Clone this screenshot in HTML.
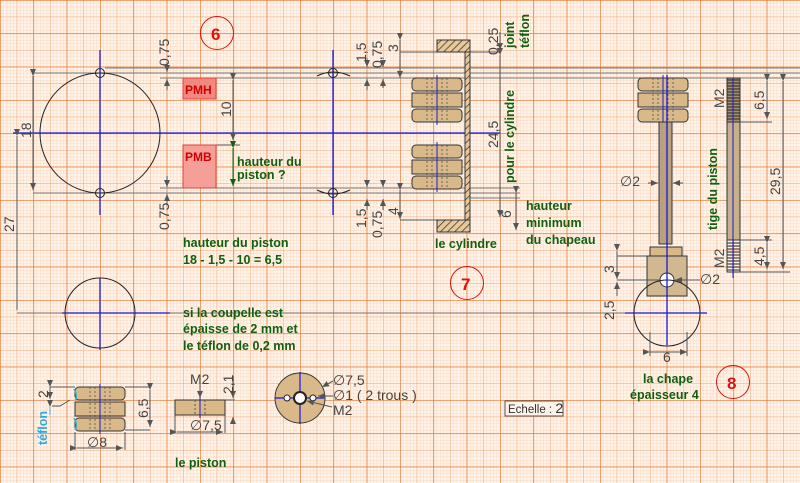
<!DOCTYPE html>
<html><head><meta charset="utf-8"><style>
html,body{margin:0;padding:0;width:800px;height:483px;overflow:hidden;background:#fff3ea}
svg{display:block}
.d{font-family:"Liberation Sans",sans-serif;font-size:14px;fill:#444}
.g{font-family:"Liberation Sans",sans-serif;font-size:12.5px;font-weight:bold;fill:#106010}
.r{font-family:"Liberation Sans",sans-serif;font-size:17px;font-weight:bold;fill:#e01010}
</style></head><body>
<svg width="800" height="483" viewBox="0 0 800 483" xmlns="http://www.w3.org/2000/svg">
<defs>
<pattern id="mn" width="3.3333" height="3.3333" patternUnits="userSpaceOnUse">
<path d="M0 0H3.3333M0 0V3.3333" stroke="#f9d2b6" stroke-width="0.8" fill="none"/>
</pattern>
<pattern id="md" width="16.6667" height="16.6667" patternUnits="userSpaceOnUse">
<path d="M0 0H16.6667M0 0V16.6667" stroke="#f3a874" stroke-width="1" fill="none"/>
</pattern>
<pattern id="mj" width="33.3333" height="33.3333" patternUnits="userSpaceOnUse">
<path d="M0 0H33.3333M0 0V33.3333" stroke="#e8742c" stroke-width="1.3" fill="none"/>
</pattern>
<pattern id="hatch" width="5" height="5" patternUnits="userSpaceOnUse" patternTransform="rotate(45)">
<rect width="5" height="5" fill="#e8c898"/><path d="M0 0V5" stroke="#333" stroke-width="1.5"/>
</pattern>
<marker id="a" markerWidth="8" markerHeight="6" refX="7" refY="3" orient="auto"><path d="M0 0L7 3L0 6z" fill="#555"/></marker>
<marker id="ag" markerWidth="8" markerHeight="6" refX="7" refY="3" orient="auto"><path d="M0 0L7 3L0 6z" fill="#106010"/></marker>
<g id="disc">
<rect x="0" y="0" width="50" height="13" rx="4" fill="#d9b98a" stroke="#333"/>
<rect x="0" y="15" width="50" height="14" fill="#d9b98a" stroke="#333"/>
<rect x="0" y="31" width="50" height="13" rx="4" fill="#d9b98a" stroke="#333"/>
<path d="M20 0V44M30 0V44M15 0V44M35 0V44" stroke="#555" stroke-dasharray="2 2" stroke-width="0.8"/>
<path d="M25 -3V47" stroke="#2020c0"/>
</g>
</defs>
<rect width="800" height="483" fill="#fff3ea"/>
<rect width="800" height="483" fill="url(#mn)"/>
<rect width="800" height="483" fill="url(#md)"/>
<rect width="800" height="483" fill="url(#mj)"/>

<!-- gray reference lines -->
<g stroke="#777" stroke-width="1" fill="none">
<path d="M33 73H800M160 78H800M105 68H800"/>
<path d="M33 193H520M160 188H520M470 198H520"/>
<path d="M17 313H640"/>
</g>

<!-- circle 6 -->
<circle cx="100" cy="133" r="60" fill="none" stroke="#222"/>
<circle cx="100" cy="73" r="4.5" fill="none" stroke="#222"/>
<circle cx="100" cy="193" r="4.5" fill="none" stroke="#222"/>
<path d="M100 50V215M13 133H500" stroke="#1a1ad0" stroke-width="1.3"/>
<circle cx="100" cy="313" r="35" fill="none" stroke="#222"/>
<path d="M100 278V350M62 313H170" stroke="#1a1ad0" stroke-width="1.3"/>

<g stroke="#555" fill="none">
<path d="M33 76V190" marker-start="url(#a)" marker-end="url(#a)"/>
<path d="M17 136V310" marker-start="url(#a)"/>
<path d="M167 62V72" marker-end="url(#a)"/><path d="M167 90V79" marker-end="url(#a)"/>
<path d="M167 176V187" marker-end="url(#a)"/><path d="M167 205V194" marker-end="url(#a)"/>
<path d="M233 80V140" marker-start="url(#a)" marker-end="url(#a)"/>
<path d="M216 145H240"/>
</g>
<text class="d" transform="translate(31,138) rotate(-90)">18</text>
<text class="d" transform="translate(14,232) rotate(-90)">27</text>
<text class="d" transform="translate(169,66) rotate(-90)">0,75</text>
<text class="d" transform="translate(169,230) rotate(-90)">0,75</text>
<text class="d" transform="translate(231,117) rotate(-90)">10</text>
<rect x="183" y="78" width="33" height="21" fill="#f08a80" stroke="#e04040"/>
<text x="185" y="94" font-family="Liberation Sans" font-size="12" font-weight="bold" fill="#d00000">PMH</text>
<rect x="183" y="145" width="33" height="43" fill="#f4a098" stroke="#e04040"/>
<text x="185" y="161" font-family="Liberation Sans" font-size="12" font-weight="bold" fill="#d00000">PMB</text>
<path d="M233 148V186" stroke="#106010" marker-start="url(#ag)" marker-end="url(#ag)"/>
<text class="g" x="237" y="166">hauteur du</text>
<text class="g" x="237" y="179">piston ?</text>
<circle cx="217" cy="33" r="16.5" fill="none" stroke="#e01010"/>
<text class="r" x="211" y="40">6</text>

<!-- middle -->
<path d="M333 50V215" stroke="#1a1ad0" stroke-width="1.3"/>
<circle cx="333" cy="73" r="4.5" fill="none" stroke="#222"/>
<circle cx="333" cy="193" r="4.5" fill="none" stroke="#222"/>
<path d="M317 76Q333 68 350 76M317 190Q333 198 350 190" stroke="#222" fill="none"/>
<g stroke="#555" fill="none">
<path d="M367 58V67" marker-end="url(#a)"/><path d="M367 90V79" marker-end="url(#a)"/>
<path d="M383 60V67" marker-end="url(#a)"/><path d="M383 88V79" marker-end="url(#a)"/>
<path d="M400 40V78" marker-start="url(#a)" marker-end="url(#a)"/>
<path d="M367 180V187" marker-end="url(#a)"/><path d="M367 210V199" marker-end="url(#a)"/>
<path d="M383 180V187" marker-end="url(#a)"/><path d="M383 210V199" marker-end="url(#a)"/>
<path d="M400 190V219" marker-start="url(#a)" marker-end="url(#a)"/>
<path d="M400 52H500M400 220H437"/>
<path d="M500 55V217" marker-start="url(#a)" marker-end="url(#a)"/>
<path d="M500 32V50" marker-end="url(#a)"/>
<path d="M516 193V230" marker-start="url(#a)" marker-end="url(#a)"/>
</g>
<text class="d" transform="translate(366,62) rotate(-90)">1,5</text>
<text class="d" transform="translate(382,68) rotate(-90)">0,75</text>
<text class="d" transform="translate(398,52) rotate(-90)">3</text>
<text class="d" transform="translate(366,228) rotate(-90)">1,5</text>
<text class="d" transform="translate(382,238) rotate(-90)">0,75</text>
<text class="d" transform="translate(398,215) rotate(-90)">4</text>
<text class="d" transform="translate(498,55) rotate(-90)">0,25</text>
<text class="d" transform="translate(498,148) rotate(-90)">24,5</text>
<text class="d" transform="translate(511,218) rotate(-90)">6</text>
<text class="g" transform="translate(514,48) rotate(-90)">joint</text>
<text class="g" transform="translate(529,48) rotate(-90)">téflon</text>
<text class="g" transform="translate(514,183) rotate(-90)">pour le cylindre</text>
<rect x="437" y="40" width="33" height="12" fill="url(#hatch)" stroke="#333"/>
<rect x="465" y="52" width="5" height="168" fill="url(#hatch)" stroke="#333"/>
<rect x="437" y="220" width="33" height="12" fill="url(#hatch)" stroke="#333"/>
<use href="#disc" x="412" y="78"/>
<use href="#disc" x="412" y="145"/>
<text class="g" x="526" y="210">hauteur</text>
<text class="g" x="526" y="227">minimum</text>
<text class="g" x="526" y="244">du chapeau</text>
<text class="g" x="435" y="248">le cylindre</text>
<circle cx="467" cy="283" r="16.5" fill="none" stroke="#e01010"/>
<text class="r" x="461" y="290">7</text>

<text class="g" x="183" y="247">hauteur du piston</text>
<text class="g" x="183" y="264">18 - 1,5 - 10 = 6,5</text>
<text class="g" x="183" y="317">si la coupelle est</text>
<text class="g" x="183" y="333">épaisse de 2 mm et</text>
<text class="g" x="183" y="350">le téflon de 0,2 mm</text>

<!-- right: piston assembly -->
<use href="#disc" x="638" y="78"/>
<rect x="659" y="122" width="13" height="122" fill="#b8a080" stroke="#333"/>
<rect x="650" y="247" width="32" height="9" fill="#d9b98a" stroke="#333"/>
<rect x="647" y="256" width="40" height="40" fill="#d0b890" stroke="#333"/>
<circle cx="667" cy="280" r="7" fill="#fff" stroke="#333"/>
<circle cx="667" cy="313" r="33" fill="none" stroke="#222"/>
<path d="M667 75V345M625 313H707" stroke="#1a1ad0" stroke-width="1.3"/>
<g stroke="#555" fill="none">
<path d="M648 183H658" marker-end="url(#a)"/><path d="M683 183H673" marker-end="url(#a)"/>
<path d="M617 251V279" marker-start="url(#a)" marker-end="url(#a)"/>
<path d="M617 296V282" marker-end="url(#a)"/>
<path d="M617 256H647M617 280H660"/>
<path d="M650 332V356M687 332V356"/>
<path d="M650 352H687" marker-start="url(#a)" marker-end="url(#a)"/>
<path d="M700 280H675" marker-end="url(#a)"/>
</g>
<text class="d" x="620" y="186">∅2</text>
<text class="d" transform="translate(614,273) rotate(-90)">3</text>
<text class="d" transform="translate(614,320) rotate(-90)">2,5</text>
<text class="d" x="663" y="362">6</text>
<text class="d" x="700" y="284">∅2</text>
<text class="g" x="643" y="383">la chape</text>
<text class="g" x="630" y="399">épaisseur 4</text>
<circle cx="733" cy="382" r="16.5" fill="none" stroke="#e01010"/>
<text class="r" x="727" y="389">8</text>

<!-- tige -->
<rect x="727" y="78" width="13" height="44" fill="#a89070" stroke="#333"/>
<path d="M727 80H740M727 83H740M727 86H740M727 89H740M727 92H740M727 95H740M727 98H740M727 101H740M727 104H740M727 107H740M727 110H740M727 113H740M727 116H740M727 119H740M727 243H740M727 246H740M727 249H740M727 252H740M727 255H740M727 258H740M727 261H740M727 264H740M727 267H740M727 270H740" stroke="#222"/>
<rect x="727" y="122" width="13" height="118" fill="#c8b08a" stroke="#333"/>
<rect x="727" y="240" width="13" height="32" fill="none" stroke="#333"/>
<path d="M733 78V278" stroke="#1a1ad0"/>
<g stroke="#555" fill="none">
<path d="M767 81V119" marker-start="url(#a)" marker-end="url(#a)"/>
<path d="M783 81V269" marker-start="url(#a)" marker-end="url(#a)"/>
<path d="M767 243V269" marker-start="url(#a)" marker-end="url(#a)"/>
<path d="M740 122H772M740 240H772M740 272H790"/>
</g>
<text class="d" transform="translate(724,108) rotate(-90)">M2</text>
<text class="d" transform="translate(724,268) rotate(-90)">M2</text>
<text class="d" transform="translate(764,110) rotate(-90)">6,5</text>
<text class="d" transform="translate(780,195) rotate(-90)">29,5</text>
<text class="d" transform="translate(764,266) rotate(-90)">4,5</text>
<text class="g" transform="translate(717,230) rotate(-90)">tige du piston</text>

<!-- bottom piston pieces -->
<use href="#disc" x="75" y="387"/>
<path d="M74 389Q78 396 75 400M74 418Q78 425 75 430" stroke="#30b0d0" fill="none" stroke-width="1.5"/>
<g stroke="#555" fill="none">
<path d="M50 387V399" marker-start="url(#a)" marker-end="url(#a)"/>
<path d="M50 387H75M150 387H125M150 430H125"/>
<path d="M150 390V427" marker-start="url(#a)" marker-end="url(#a)"/>
<path d="M75 432V450M125 432V450"/>
<path d="M77 448H123" marker-start="url(#a)" marker-end="url(#a)"/>
<path d="M70 400L60 406H52"/>
<path d="M175 400H235M175 415V433M225 415V433"/>
<path d="M177 432H223" marker-start="url(#a)" marker-end="url(#a)"/>
<path d="M200 384V398" marker-end="url(#a)"/>
<path d="M233 376V398" marker-end="url(#a)"/><path d="M233 420V417" marker-end="url(#a)"/>
</g>
<path d="M50 407V415" stroke="#30b0d0" marker-start="url(#a)"/>
<text class="d" transform="translate(48,398) rotate(-90)">2</text>
<text transform="translate(47,445) rotate(-90)" font-family="Liberation Sans" font-size="12.5" font-weight="bold" fill="#30a8e0">téflon</text>
<text class="d" transform="translate(148,418) rotate(-90)">6,5</text>
<text class="d" x="87" y="447">∅8</text>
<rect x="175" y="400" width="50" height="15" fill="#d9b98a" stroke="#333"/>
<path d="M195 400V415M205 400V415" stroke="#555" stroke-dasharray="2 2"/>
<path d="M200 397V418" stroke="#1a1ad0"/>
<text class="d" x="190" y="384">M2</text>
<text class="d" transform="translate(233,394) rotate(-90)">2,1</text>
<text class="d" x="190" y="430">∅7,5</text>
<text class="g" x="175" y="467">le piston</text>

<circle cx="300" cy="398" r="25" fill="#d9b98a" stroke="#333"/>
<path d="M275 398H325M300 372V424" stroke="#1a1ad0" stroke-width="1.2"/>
<circle cx="300" cy="398" r="6" fill="#fff" stroke="#222" stroke-width="2"/>
<circle cx="287" cy="398" r="3" fill="#fff" stroke="#222"/>
<circle cx="313" cy="398" r="3" fill="#fff" stroke="#222"/>
<g stroke="#555" fill="none">
<path d="M333 381L322 387" marker-end="url(#a)"/>
<path d="M333 396H318" marker-end="url(#a)"/>
<path d="M332 407L307 401" marker-end="url(#a)"/>
</g>
<text class="d" x="333" y="385">∅7,5</text>
<text class="d" x="333" y="400">∅1 ( 2 trous )</text>
<text class="d" x="333" y="415">M2</text>

<rect x="505" y="401" width="58" height="15" fill="#fff3ea" stroke="#555"/>
<text x="508" y="413" font-family="Liberation Sans" font-size="11.5" fill="#333">Echelle : <tspan font-size="14">2</tspan></text>
</svg>
</body></html>
